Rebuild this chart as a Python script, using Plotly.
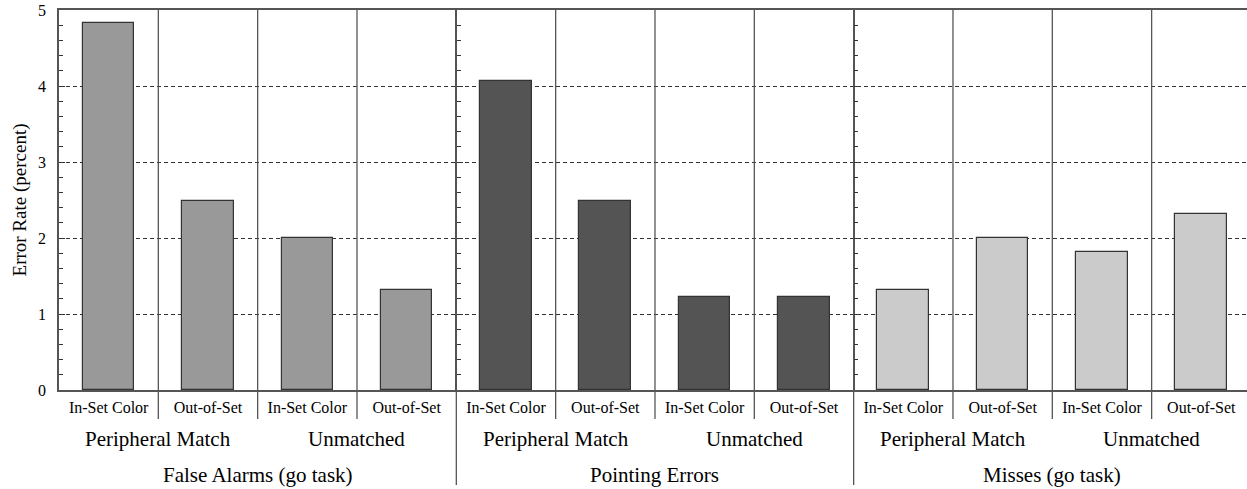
import plotly.graph_objects as go

panels = ["False Alarms (go task)", "Pointing Errors", "Misses (go task)"]
groups = ["Peripheral Match", "Unmatched"]
conditions = ["In-Set Color", "Out-of-Set"]
false_alarms = [4.83, 2.49, 2.0, 1.32]
pointing_errors = [4.07, 2.49, 1.22, 1.22]
misses = [1.32, 2.0, 1.81, 2.31]
panel_values = [false_alarms, pointing_errors, misses]
panel_colors = ["#999999", "#545454", "#cbcbcb"]
y_ticks = [0, 1, 2, 3, 4, 5]

FONT = "Liberation Serif"
LINE = "#555555"
n_slots = len(panels) * len(groups) * len(conditions)
x_max = 11.46  # right edge of the visible plot (chart is cropped on the right)

fig = go.Figure()

tickvals, ticktext = [], []
slot = 0
for p, vals in enumerate(panel_values):
    xs = []
    for g in range(len(groups)):
        for c in range(len(conditions)):
            xs.append(slot)
            tickvals.append(slot)
            ticktext.append(conditions[c])
            slot += 1
    fig.add_trace(go.Bar(
        x=xs, y=vals, width=0.52,
        marker=dict(color=panel_colors[p], line=dict(color="#333333", width=1.2)),
        showlegend=False, hoverinfo="x+y",
    ))

shapes = []
annotations = []
span = x_max + 0.5
# dividers
for k in range(1, n_slots):
    xline = k - 0.5
    y0 = -0.25 if k % 4 == 0 else -0.076
    shapes.append(dict(type="line", xref="x", yref="paper", x0=xline, x1=xline,
                       y0=y0, y1=1, line=dict(color=LINE, width=1.3), layer="above"))

# group labels and panel titles
for p in range(len(panels)):
    for g in range(len(groups)):
        center = p * 4 + g * 2 + 0.5
        annotations.append(dict(x=center, y=-0.128, xref="x", yref="paper",
                                text=groups[g], showarrow=False,
                                font=dict(family=FONT, size=21, color="black"),
                                yanchor="middle", xanchor="center"))
    annotations.append(dict(x=p * 4 + 1.5, y=-0.224, xref="x", yref="paper",
                            text=panels[p], showarrow=False,
                            font=dict(family=FONT, size=21, color="black"),
                            yanchor="middle", xanchor="center"))

axis_common = dict(range=[0, 5], tickvals=y_ticks, ticks="inside", ticklen=6,
                   tickcolor="#333333", showline=True, linecolor=LINE, linewidth=1.5,
                   minor=dict(dtick=0.2, ticks="inside", ticklen=4, tickcolor="#333333"))

fig.update_layout(
    width=1247, height=489,
    margin=dict(l=59, r=0, t=10, b=99),
    plot_bgcolor="white", paper_bgcolor="white",
    font=dict(family=FONT, color="black"),
    bargap=0,
    xaxis=dict(range=[-0.5, x_max], tickvals=tickvals, ticktext=ticktext,
               showgrid=False, zeroline=False, showline=True, linecolor=LINE,
               linewidth=1.5, mirror=True, ticks="", ticklabelstandoff=2,
               tickfont=dict(family=FONT, size=16, color="black")),
    yaxis=dict(**axis_common, showgrid=True, gridcolor="#333333", griddash="4px,3px",
               gridwidth=1, zeroline=False, ticklabelstandoff=8,
               tickfont=dict(family=FONT, size=16, color="black"),
               title=dict(text="Error Rate (percent)", standoff=6,
                          font=dict(family=FONT, size=19, color="black"))),
    yaxis2=dict(**axis_common, overlaying="y", anchor="free", side="left",
                position=(3.5 + 0.5) / span, showticklabels=False, showgrid=False,
                zeroline=False),
    yaxis3=dict(**axis_common, overlaying="y", anchor="free", side="left",
                position=(7.5 + 0.5) / span, showticklabels=False, showgrid=False,
                zeroline=False),
    shapes=shapes,
    annotations=annotations,
)
# empty traces so the extra axes are drawn
fig.add_trace(go.Scatter(x=[None], y=[None], yaxis="y2", showlegend=False, hoverinfo="skip"))
fig.add_trace(go.Scatter(x=[None], y=[None], yaxis="y3", showlegend=False, hoverinfo="skip"))

fig.write_html("out.html", config={"displayModeBar": False},
               post_script="document.body.style.margin='0';")
